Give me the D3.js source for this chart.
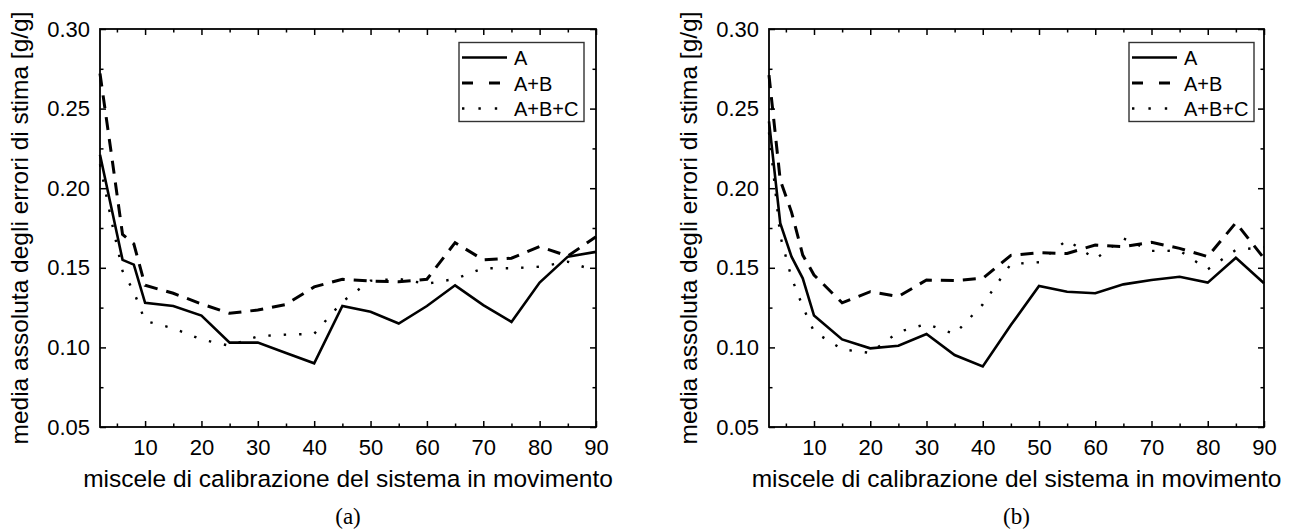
<!DOCTYPE html>
<html>
<head>
<meta charset="utf-8">
<script src="https://cdn.jsdelivr.net/npm/d3@7"></script>
<style>
  body { margin: 0; background: #fff; }
  svg text { font-family: "Liberation Sans", Arial, sans-serif; fill: #000; }
</style>
</head>
<body>
<svg id="chart" width="1291" height="531"></svg>
<script>
// Number of calibration mixtures (x values shared by every series)
const mixtures = [2, 4, 6, 8, 10, 15, 20, 25, 30, 35, 40, 45, 50, 55, 60, 65, 70, 75, 80, 85, 90];

// Panel (a): mean absolute estimation error [g/g]
const panelA_A    = [0.221, 0.188, 0.155, 0.152, 0.128, 0.126, 0.120, 0.103, 0.103, 0.0965, 0.090, 0.126, 0.1224, 0.115, 0.126, 0.139, 0.1266, 0.116, 0.1407, 0.157, 0.160];
const panelA_AB   = [0.272, 0.222, 0.171, 0.165, 0.139, 0.134, 0.1273, 0.1214, 0.1235, 0.127, 0.138, 0.1428, 0.1417, 0.1413, 0.1428, 0.1658, 0.155, 0.156, 0.1633, 0.1574, 0.1695];
const panelA_ABC  = [0.215, 0.180, 0.148, 0.135, 0.1166, 0.112, 0.105, 0.101, 0.107, 0.108, 0.1085, 0.1287, 0.1419, 0.143, 0.140, 0.143, 0.1497, 0.1497, 0.1507, 0.1538, 0.148];

// Panel (b): mean absolute estimation error [g/g]
const panelB_A    = [0.242, 0.178, 0.157, 0.1434, 0.120, 0.105, 0.0994, 0.101, 0.1084, 0.0952, 0.088, 0.114, 0.1386, 0.135, 0.134, 0.1396, 0.1423, 0.1444, 0.1407, 0.1563, 0.1403];
const panelB_AB   = [0.271, 0.205, 0.185, 0.158, 0.1455, 0.128, 0.135, 0.132, 0.1423, 0.142, 0.1434, 0.1578, 0.1595, 0.159, 0.1643, 0.1633, 0.166, 0.1622, 0.157, 0.1783, 0.156];
const panelB_ABC  = [0.235, 0.170, 0.1438, 0.1256, 0.1099, 0.0988, 0.0965, 0.1097, 0.1147, 0.1084, 0.127, 0.1524, 0.1535, 0.1675, 0.1555, 0.1685, 0.1606, 0.1607, 0.149, 0.1612, 0.163];

const seriesNames = ["A", "A+B", "A+B+C"];

// Axis ticks
const xMajorTicks = [10, 20, 30, 40, 50, 60, 70, 80, 90];
const xMinorTicks = [5, 15, 25, 35, 45, 55, 65, 75, 85];
const yMajorTicks = [0.05, 0.10, 0.15, 0.20, 0.25, 0.30];
const yMinorTicks = [0.075, 0.125, 0.175, 0.225, 0.275];

const xTitle = "miscele di calibrazione del sistema in movimento";
const yTitle = "media assoluta degli errori di stima [g/g]";
const panelLabels = ["(a)", "(b)"];

// Line styles per series: solid, dashed, dotted
const styles = [
  { width: 2.6, dash: null },
  { width: 3.0, dash: "13,9" },
  { width: 2.4, dash: "2.4,13" }
];

const panels = [
  { left: 100, right: 596, series: [panelA_A, panelA_AB, panelA_ABC], label: panelLabels[0], legendRight: 584 },
  { left: 769, right: 1264, series: [panelB_A, panelB_AB, panelB_ABC], label: panelLabels[1], legendRight: 1254 }
];
const plotTop = 29, plotBottom = 427;

const svg = d3.select("#chart");

panels.forEach(p => {
  const x = d3.scaleLinear().domain([2, 90]).range([p.left, p.right]);
  const y = d3.scaleLinear().domain([0.05, 0.30]).range([plotBottom, plotTop]);
  const g = svg.append("g");

  // Lines
  const line = d3.line().x(d => x(d[0])).y(d => y(d[1]));
  p.series.forEach((vals, i) => {
    const pts = mixtures.map((m, k) => [m, vals[k]]);
    g.append("path")
      .datum(pts)
      .attr("d", line)
      .attr("fill", "none")
      .attr("stroke", "#000")
      .attr("stroke-width", styles[i].width)
      .attr("stroke-linejoin", "miter")
      .attr("stroke-dasharray", styles[i].dash);
  });

  // Axes with inward ticks on all four sides
  const fmt = d3.format(".2f");
  const addAxis = (gen, tx, ty) => {
    const a = g.append("g").attr("transform", `translate(${tx},${ty})`).call(gen);
    a.select(".domain").remove();
    a.selectAll("line").attr("stroke", "#000").attr("stroke-width", 1.5);
    a.selectAll("text").style("font-size", "22px").attr("fill", "#000");
    return a;
  };
  addAxis(d3.axisBottom(x).tickValues(xMajorTicks).tickSize(-6).tickPadding(12.5).tickFormat(d3.format("d")), 0, plotBottom);
  addAxis(d3.axisBottom(x).tickValues(xMinorTicks).tickSize(-3.5).tickFormat(""), 0, plotBottom);
  addAxis(d3.axisTop(x).tickValues(xMajorTicks).tickSize(-6).tickFormat(""), 0, plotTop);
  addAxis(d3.axisTop(x).tickValues(xMinorTicks).tickSize(-3.5).tickFormat(""), 0, plotTop);
  addAxis(d3.axisLeft(y).tickValues(yMajorTicks).tickSize(-6).tickPadding(10).tickFormat(fmt), p.left, 0);
  addAxis(d3.axisLeft(y).tickValues(yMinorTicks).tickSize(-3.5).tickFormat(""), p.left, 0);
  addAxis(d3.axisRight(y).tickValues(yMajorTicks).tickSize(-6).tickFormat(""), p.right, 0);
  addAxis(d3.axisRight(y).tickValues(yMinorTicks).tickSize(-3.5).tickFormat(""), p.right, 0);

  // Frame
  g.append("rect")
    .attr("x", p.left).attr("y", plotTop)
    .attr("width", p.right - p.left).attr("height", plotBottom - plotTop)
    .attr("fill", "none").attr("stroke", "#000").attr("stroke-width", 1.8);

  // Axis titles
  g.append("text")
    .attr("x", (p.left + p.right) / 2).attr("y", 487)
    .attr("text-anchor", "middle")
    .style("font-size", "24.5px")
    .text(xTitle);
  g.append("text")
    .attr("transform", `translate(${p.left - 72},${(plotTop + plotBottom) / 2}) rotate(-90)`)
    .attr("text-anchor", "middle")
    .style("font-size", "24.5px")
    .text(yTitle);

  // Panel label
  g.append("text")
    .attr("x", (p.left + p.right) / 2).attr("y", 524)
    .attr("text-anchor", "middle")
    .style("font-family", '"Liberation Serif", "Times New Roman", serif')
    .style("font-size", "23px")
    .text(p.label);

  // Legend
  const lw = 125, lh = 79;
  const lx = p.legendRight - lw, ly = 42.5;
  const lg = g.append("g");
  lg.append("rect")
    .attr("x", lx).attr("y", ly).attr("width", lw).attr("height", lh)
    .attr("fill", "#fff").attr("stroke", "#333").attr("stroke-width", 1.4);
  seriesNames.forEach((name, i) => {
    const yy = ly + 15 + i * 25.5;
    lg.append("line")
      .attr("x1", lx + 3).attr("x2", lx + 48)
      .attr("y1", yy).attr("y2", yy)
      .attr("stroke", "#000")
      .attr("stroke-width", styles[i].width)
      .attr("stroke-dasharray", i === 1 ? "11,16" : (i === 2 ? "2.4,14" : null));
    lg.append("text")
      .attr("x", lx + 55).attr("y", yy + 7.5)
      .style("font-size", "20px")
      .text(name);
  });
});
</script>
</body>
</html>
